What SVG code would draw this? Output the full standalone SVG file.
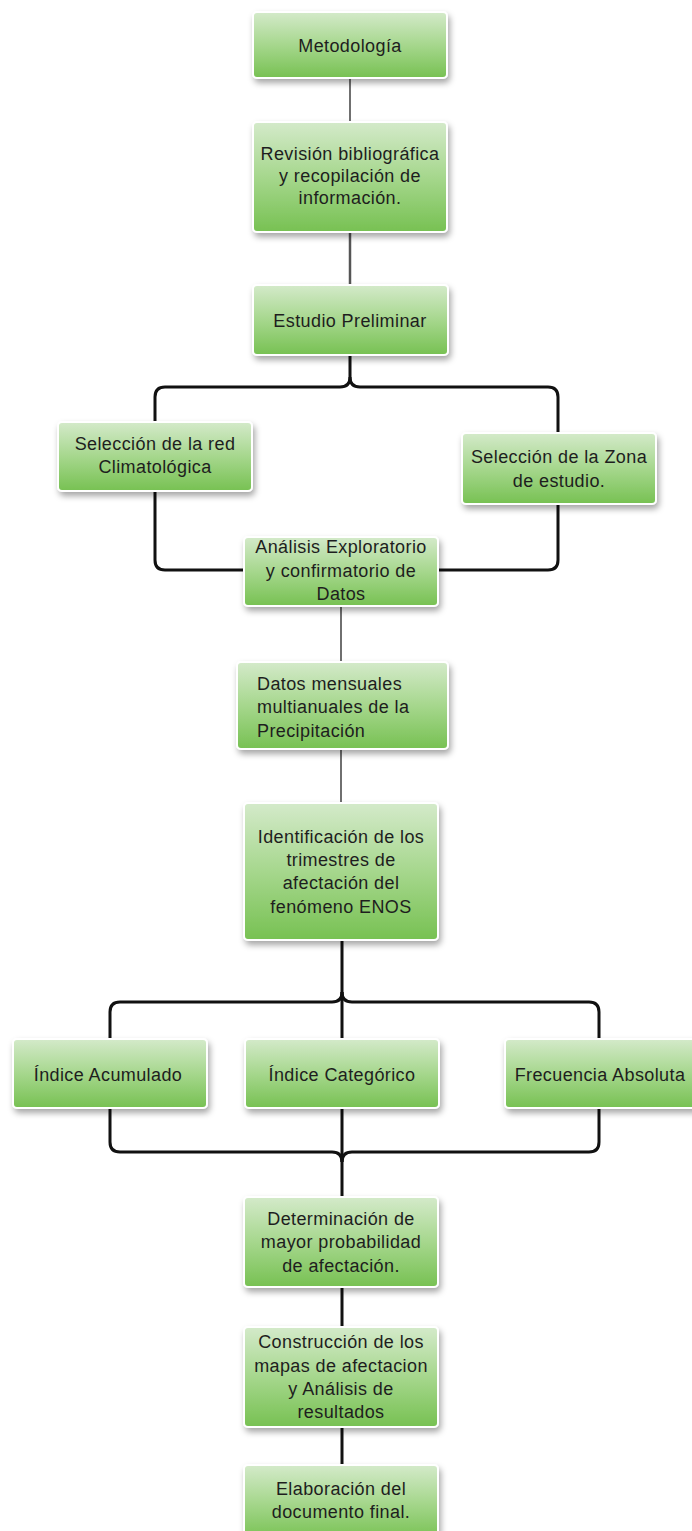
<svg xmlns="http://www.w3.org/2000/svg" width="692" height="1531" viewBox="0 0 692 1531">
<defs>
<linearGradient id="g" x1="0" y1="0" x2="0" y2="1">
<stop offset="0" stop-color="#d4eaca"/>
<stop offset="0.5" stop-color="#a6d78d"/>
<stop offset="1" stop-color="#77c152"/>
</linearGradient>
<filter id="sh" x="-10%" y="-10%" width="130%" height="140%">
<feDropShadow dx="2" dy="4" stdDeviation="3" flood-color="#000" flood-opacity="0.35"/>
</filter>
<style>
.box{fill:url(#g);stroke:#fff;stroke-width:2;filter:url(#sh)}
.t{font-family:"Liberation Sans",Arial,sans-serif;font-size:18px;letter-spacing:0.4px;fill:#1e1e1e;text-anchor:middle}
.tl{text-anchor:start}
.c{fill:none;stroke:#111;stroke-width:3;stroke-linecap:butt}
.thin{fill:none;stroke:#222;stroke-width:1.3}
</style>
</defs>
<rect width="692" height="1531" fill="#fff"/>
<g id="connectors">
<path class="thin" d="M350,78 V122" stroke="#333" stroke-width="1.6"/>
<path class="thin" d="M350,232 V285" style="stroke:#555;stroke-width:2.5"/>
<path class="c" d="M350,355 V377 Q350,387 340,387 H165 Q155,387 155,397 V422"/>
<path class="c" d="M350,377 Q350,387 360,387 H548 Q558,387 558,397 V433"/>
<path class="c" d="M155,491 V560 Q155,570 165,570 H244"/>
<path class="c" d="M558,504 V560 Q558,570 548,570 H438"/>
<path class="thin" d="M341,606 V662"/>
<path class="thin" d="M341,749 V803"/>
<path class="c" d="M342,940 V1197"/>
<path class="c" d="M342,992 Q342,1002 332,1002 H120 Q110,1002 110,1012 V1039"/>
<path class="c" d="M342,992 Q342,1002 352,1002 H589 Q599,1002 599,1012 V1039"/>
<path class="c" d="M110,1108 V1142 Q110,1152 120,1152 H332 Q342,1152 342,1162"/>
<path class="c" d="M599,1108 V1142 Q599,1152 589,1152 H352 Q342,1152 342,1162"/>
<path class="c" d="M342,1287 V1327"/>
<path class="c" d="M342,1427 V1465"/>
</g>
<g id="n1"><rect class="box" x="253" y="12" width="194" height="66" rx="4"/><text class="t" x="350" y="52">Metodología</text></g>
<g id="n2"><rect class="box" x="253" y="122" width="194" height="110" rx="4"/><text class="t" x="350" y="160">Revisión bibliográfica</text><text class="t" x="350" y="182">y recopilación de</text><text class="t" x="350" y="204">información.</text></g>
<g id="n3"><rect class="box" x="253" y="285" width="195" height="70" rx="4"/><text class="t" x="350" y="327">Estudio Preliminar</text></g>
<g id="n4"><rect class="box" x="58" y="422" width="194" height="69" rx="4"/><text class="t" x="155" y="450">Selección de la red</text><text class="t" x="155" y="473">Climatológica</text></g>
<g id="n5"><rect class="box" x="462" y="433" width="194" height="71" rx="4"/><text class="t" x="559" y="463">Selección de la Zona</text><text class="t" x="559" y="487">de estudio.</text></g>
<g id="n6"><rect class="box" x="244" y="537" width="194" height="69" rx="4"/><text class="t" x="341" y="553">Análisis Exploratorio</text><text class="t" x="341" y="577">y confirmatorio de</text><text class="t" x="341" y="600">Datos</text></g>
<g id="n7"><rect class="box" x="237" y="662" width="211" height="87" rx="4"/><text class="t tl" x="257" y="690">Datos mensuales</text><text class="t tl" x="257" y="713">multianuales de la</text><text class="t tl" x="257" y="737">Precipitación</text></g>
<g id="n8"><rect class="box" x="244" y="803" width="194" height="137" rx="4"/><text class="t" x="341" y="843">Identificación de los</text><text class="t" x="341" y="866">trimestres de</text><text class="t" x="341" y="889">afectación del</text><text class="t" x="341" y="913">fenómeno ENOS</text></g>
<g id="n9"><rect class="box" x="13" y="1039" width="194" height="69" rx="4"/><text class="t" x="108" y="1081">Índice Acumulado</text></g>
<g id="n10"><rect class="box" x="245" y="1039" width="194" height="69" rx="4"/><text class="t" x="342" y="1081">Índice Categórico</text></g>
<g id="n11"><rect class="box" x="505" y="1039" width="194" height="69" rx="4"/><text class="t" x="600" y="1081">Frecuencia Absoluta</text></g>
<g id="n12"><rect class="box" x="244" y="1197" width="194" height="90" rx="4"/><text class="t" x="341" y="1225">Determinación de</text><text class="t" x="341" y="1248">mayor probabilidad</text><text class="t" x="341" y="1272">de afectación.</text></g>
<g id="n13"><rect class="box" x="244" y="1327" width="194" height="100" rx="4"/><text class="t" x="341" y="1348">Construcción de los</text><text class="t" x="341" y="1372">mapas de afectacion</text><text class="t" x="341" y="1395">y Análisis de</text><text class="t" x="341" y="1418">resultados</text></g>
<g id="n14"><rect class="box" x="244" y="1465" width="194" height="75" rx="4"/><text class="t" x="341" y="1495">Elaboración del</text><text class="t" x="341" y="1518">documento final.</text></g>
</svg>
